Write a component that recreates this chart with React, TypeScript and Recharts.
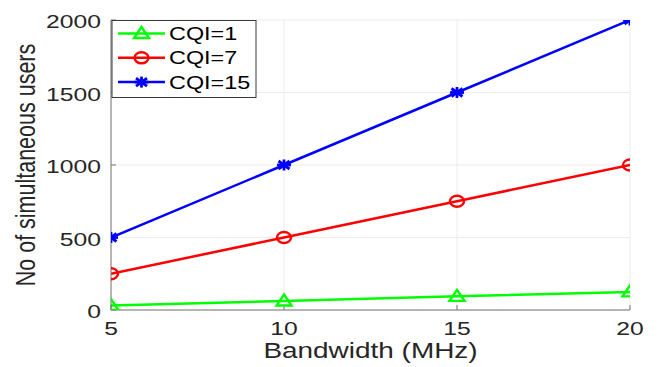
import { LineChart, Line, XAxis, YAxis, CartesianGrid, Legend } from "recharts";

// values
const bandwidth = [5, 10, 15, 20];
const cqi1Users = [31, 62, 94, 125];
const cqi7Users = [250, 500, 750, 1000];
const cqi15Users = [500, 1000, 1500, 2000];
const xTicks = [5, 10, 15, 20];
const yTicks = [0, 500, 1000, 1500, 2000];

const seriesList = [
  { key: "cqi1", name: "CQI=1", color: "#00ff00", marker: "triangle" },
  { key: "cqi7", name: "CQI=7", color: "#ff0000", marker: "circle" },
  { key: "cqi15", name: "CQI=15", color: "#0000ff", marker: "star" },
];

const data = bandwidth.map((bw, i) => ({
  bw,
  cqi1: cqi1Users[i],
  cqi7: cqi7Users[i],
  cqi15: cqi15Users[i],
}));

// the original figure is stretched sideways, text and markers included
const SX = 1.3;
const FONT = "'Liberation Sans', Arial, sans-serif";
const TEXT = "#262626";
const AXIS = "#767676";

function Marker({ kind, cx, cy, color }: any) {
  if (kind === "triangle") {
    return (
      <path
        d={`M${cx},${cy - 6.5} L${cx + 7.5},${cy + 4.5} L${cx - 7.5},${cy + 4.5} Z`}
        fill="none"
        stroke={color}
        strokeWidth={2.4}
      />
    );
  }
  if (kind === "circle") {
    return <ellipse cx={cx} cy={cy} rx={7} ry={5.5} fill="none" stroke={color} strokeWidth={2.4} />;
  }
  return (
    <g stroke={color} strokeWidth={2.8}>
      <line x1={cx - 7} y1={cy} x2={cx + 7} y2={cy} />
      <line x1={cx} y1={cy - 5.5} x2={cx} y2={cy + 5.5} />
      <line x1={cx - 5.5} y1={cy - 4} x2={cx + 5.5} y2={cy + 4} />
      <line x1={cx - 5.5} y1={cy + 4} x2={cx + 5.5} y2={cy - 4} />
    </g>
  );
}

function XTick({ x, y, payload }: any) {
  return (
    <g transform={`translate(${x},${y}) scale(${SX},1)`}>
      <text textAnchor="middle" fontSize={19} fill={TEXT} fontFamily={FONT}>
        {payload.value}
      </text>
    </g>
  );
}

function YTick({ x, y, payload }: any) {
  return (
    <g transform={`translate(${x},${y + 8}) scale(${SX},1)`}>
      <text textAnchor="end" fontSize={19} fill={TEXT} fontFamily={FONT}>
        {payload.value}
      </text>
    </g>
  );
}

function XTitle({ viewBox }: any) {
  const { x, y, width } = viewBox;
  return (
    <g transform={`translate(${x + width / 2},${y + 48}) scale(${SX},1)`}>
      <text textAnchor="middle" fontSize={21.5} fill={TEXT} fontFamily={FONT}>
        Bandwidth (MHz)
      </text>
    </g>
  );
}

function YTitle({ viewBox }: any) {
  const { y, height } = viewBox;
  return (
    <g transform={`translate(35,${y + height / 2}) scale(${SX},1) rotate(-90)`}>
      <text textAnchor="middle" fontSize={21.5} fill={TEXT} fontFamily={FONT}>
        No of simultaneous users
      </text>
    </g>
  );
}

function LegendBox() {
  return (
    <svg width={146} height={79} style={{ overflow: "visible", display: "block" }}>
      <rect x={1} y={0.5} width={144} height={77} fill="#fff" stroke="#3a3a3a" strokeWidth={1} />
      {seriesList.map((s, i) => {
        const cy = 13.5 + i * 24.3;
        return (
          <g key={s.key}>
            <line x1={7} y1={cy} x2={54} y2={cy} stroke={s.color} strokeWidth={2.5} />
            <Marker kind={s.marker} cx={30.5} cy={cy} color={s.color} />
            <g transform={`translate(58,${cy + 6.5}) scale(${SX},1)`}>
              <text fontSize={18} fill="#000" fontFamily={FONT}>
                {s.name}
              </text>
            </g>
          </g>
        );
      })}
    </svg>
  );
}

export default function App() {
  return (
    <div style={{ position: "absolute", left: 0, top: 0, width: 658, height: 367, background: "#fff" }}>
      <LineChart width={658} height={367} data={data} margin={{ top: 20, right: 28, bottom: 0, left: 0 }}>
        <CartesianGrid stroke="#ececec" strokeWidth={1} />
        <XAxis
          dataKey="bw"
          type="number"
          domain={[5, 20]}
          ticks={xTicks}
          allowDataOverflow
          height={57}
          tickSize={-5}
          tickMargin={30}
          stroke={AXIS}
          tick={<XTick />}
          label={<XTitle />}
        />
        <XAxis
          xAxisId="top"
          orientation="top"
          dataKey="bw"
          type="number"
          domain={[5, 20]}
          ticks={xTicks}
          allowDataOverflow
          height={0}
          tickSize={-5}
          tick={false}
          stroke={AXIS}
        />
        <YAxis
          type="number"
          domain={[0, 2000]}
          ticks={yTicks}
          allowDataOverflow
          width={111}
          tickSize={-5}
          tickMargin={15}
          stroke={AXIS}
          tick={<YTick />}
          label={<YTitle />}
        />
        <YAxis
          yAxisId="right"
          orientation="right"
          type="number"
          domain={[0, 2000]}
          ticks={yTicks}
          allowDataOverflow
          width={0}
          tickSize={-5}
          tick={false}
          stroke={AXIS}
        />
        {seriesList.map((s) => (
          <Line
            key={s.key}
            dataKey={s.key}
            name={s.name}
            stroke={s.color}
            strokeWidth={2.5}
            isAnimationActive={false}
            dot={(p: any) => (
              <g key={`${s.key}-${p.index}`}>
                <Marker kind={s.marker} cx={p.cx} cy={p.cy} color={s.color} />
              </g>
            )}
          />
        ))}
        <Legend
          layout="vertical"
          align="center"
          verticalAlign="middle"
          wrapperStyle={{ position: "absolute", left: 111, top: 19.5, width: 146, height: 79 }}
          content={() => <LegendBox />}
        />
      </LineChart>
    </div>
  );
}
